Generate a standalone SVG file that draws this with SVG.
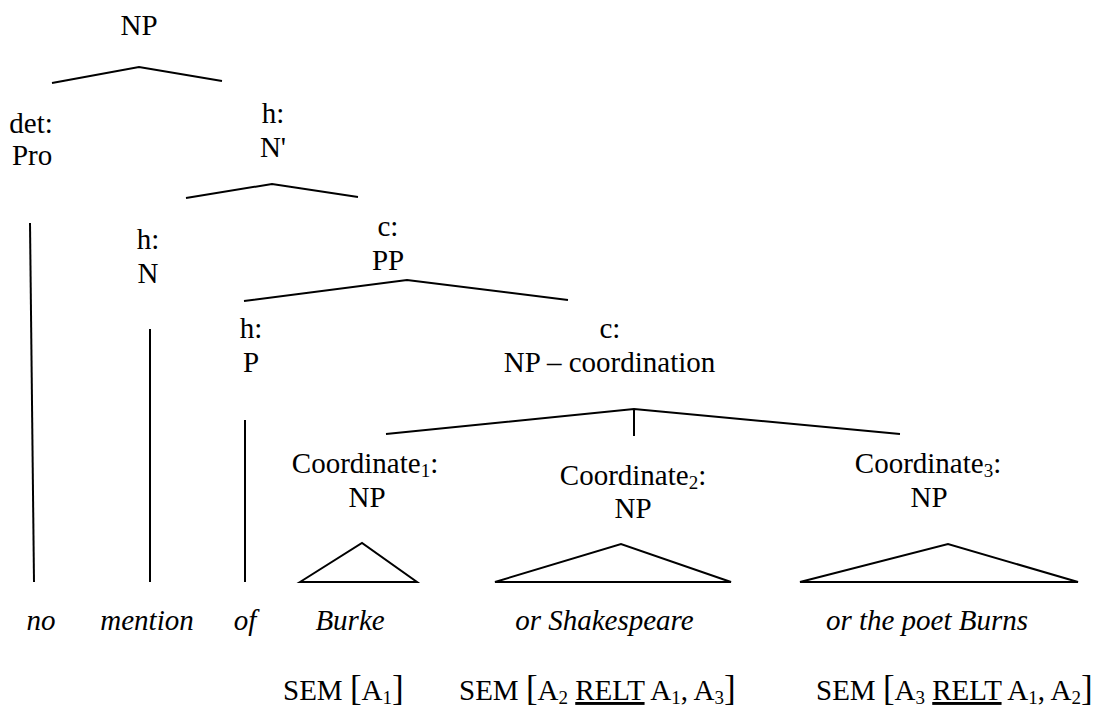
<svg xmlns="http://www.w3.org/2000/svg" width="1106" height="713" viewBox="0 0 1106 713">
  <style>
    text { font-family: "Liberation Serif", "Times New Roman", serif; font-size: 29px; fill: #000; }
    text.leaf-word { font-style: italic; }
    .sub { font-size: 19px; }
    .br { font-size: 35px; }
    .u { text-decoration: underline; }
    .edge { fill: none; stroke: #000; stroke-width: 2; stroke-linejoin: miter; }
  </style>
  <rect width="1106" height="713" fill="#fff"/>

  <!-- branches of the tree -->
  <g id="connectors">
    <polyline class="edge" points="52,83 139,67 222,81"/>
    <polyline class="edge" points="186,198 272,184 358,197"/>
    <polyline class="edge" points="244,301 407,280 568,300"/>
    <polyline class="edge" points="386,434 634,409 900,434"/>
    <line class="edge" x1="634" y1="409" x2="634" y2="436"/>
    <line class="edge" x1="30" y1="223" x2="34" y2="582"/>
    <line class="edge" x1="150" y1="329" x2="150" y2="582"/>
    <line class="edge" x1="245" y1="420" x2="245" y2="582"/>
    <polygon class="edge" points="300,582 362,543 417,582"/>
    <polygon class="edge" points="495,582 621,544 731,582"/>
    <polygon class="edge" points="800,582 948,544 1078,582"/>
  </g>

  <!-- labels are start-anchored; x values put each one centred over its branch -->
  <g id="np-root"><text x="120.5" y="35">NP</text></g>
  <g id="det-pro">
    <text x="9.3" y="133">det:</text>
    <text x="11.9" y="165">Pro</text>
  </g>
  <g id="h-nbar">
    <text x="261.7" y="123">h:</text>
    <text x="259.9" y="157">N'</text>
  </g>
  <g id="h-n">
    <text x="136.7" y="249">h:</text>
    <text x="137.5" y="283">N</text>
  </g>
  <g id="c-pp">
    <text x="377.5" y="236">c:</text>
    <text x="371.9" y="270">PP</text>
  </g>
  <g id="h-p">
    <text x="239.7" y="338">h:</text>
    <text x="242.9" y="372">P</text>
  </g>
  <g id="c-coord">
    <text x="599.5" y="338">c:</text>
    <text x="503.7" y="372">NP – coordination</text>
  </g>
  <g id="coordinate-1">
    <text x="291.8" y="473">Coordinate<tspan class="sub" dy="4">1</tspan><tspan dy="-4">:</tspan></text>
    <text x="348.5" y="507">NP</text>
  </g>
  <g id="coordinate-2">
    <text x="559.8" y="485">Coordinate<tspan class="sub" dy="4">2</tspan><tspan dy="-4">:</tspan></text>
    <text x="614.5" y="518">NP</text>
  </g>
  <g id="coordinate-3">
    <text x="854.8" y="473">Coordinate<tspan class="sub" dy="4">3</tspan><tspan dy="-4">:</tspan></text>
    <text x="910.5" y="507">NP</text>
  </g>

  <g id="words">
    <text class="leaf-word" x="26.5" y="630">no</text>
    <text class="leaf-word" x="100.3" y="630">mention</text>
    <text class="leaf-word" x="233.7" y="630">of</text>
    <text class="leaf-word" x="315.4" y="630">Burke</text>
    <text class="leaf-word" x="515.2" y="630">or Shakespeare</text>
    <text class="leaf-word" x="825.9" y="630">or the poet Burns</text>
  </g>

  <g id="semantics">
    <text x="283" y="700">SEM <tspan class="br">[</tspan>A<tspan class="sub" dy="4">1</tspan><tspan class="br" dy="-4">]</tspan></text>
    <text x="459" y="700">SEM <tspan class="br">[</tspan>A<tspan class="sub" dy="4">2</tspan><tspan dy="-4"> </tspan><tspan class="u">RELT</tspan> A<tspan class="sub" dy="4">1</tspan><tspan dy="-4">, A</tspan><tspan class="sub" dy="4">3</tspan><tspan class="br" dy="-4">]</tspan></text>
    <text x="816" y="700">SEM <tspan class="br">[</tspan>A<tspan class="sub" dy="4">3</tspan><tspan dy="-4"> </tspan><tspan class="u">RELT</tspan> A<tspan class="sub" dy="4">1</tspan><tspan dy="-4">, A</tspan><tspan class="sub" dy="4">2</tspan><tspan class="br" dy="-4">]</tspan></text>
  </g>
</svg>
